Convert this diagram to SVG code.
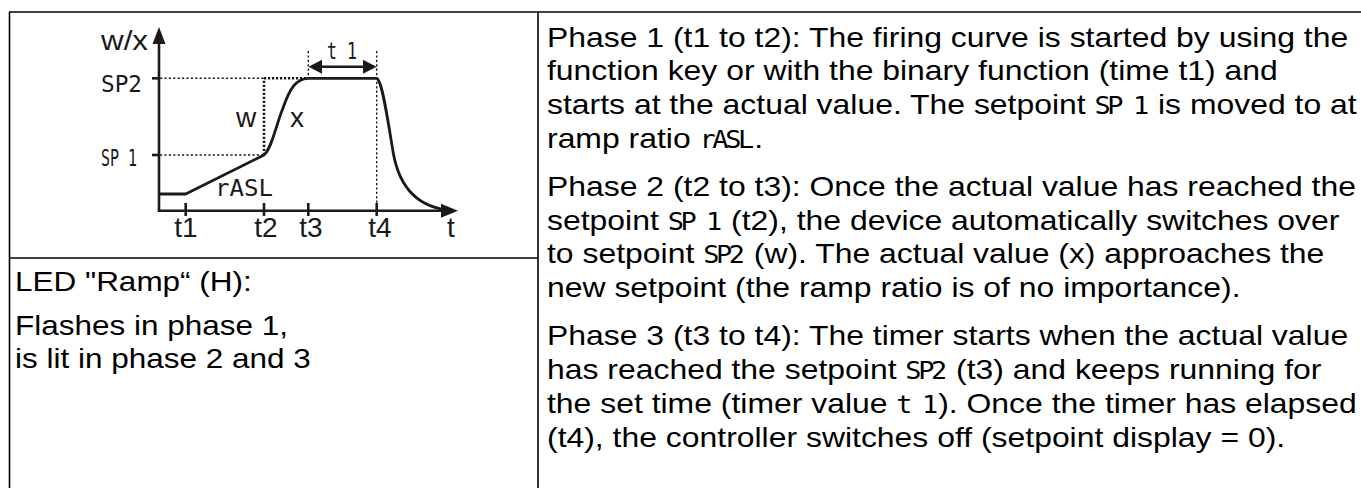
<svg xmlns="http://www.w3.org/2000/svg" width="1361" height="488" viewBox="0 0 1361 488">
<style>
.txt{font-family:"Liberation Sans",Arial,Helvetica,sans-serif;font-size:28.5px;fill:#000}
.lbl{font-family:"Liberation Sans",Arial,Helvetica,sans-serif;font-size:28px;fill:#1a1a1a}
.seg{font-family:"DejaVu Sans Mono","Liberation Mono",monospace;font-size:24px;letter-spacing:-3px}
.segl{font-family:"DejaVu Sans Mono","Liberation Mono",monospace;font-size:23px;fill:#1a1a1a}
.frame{stroke:#000;stroke-width:1.6;fill:none}
.axis{stroke:#1a1a1a;stroke-width:2.6;fill:none}
.dot{stroke:#1a1a1a;stroke-width:1.4;stroke-dasharray:2.2 2.2;fill:none}
.dotb{stroke:#1a1a1a;stroke-width:2.6;stroke-dasharray:2.2 1.8;fill:none}
.curve{stroke:#1a1a1a;stroke-width:2.8;fill:none;stroke-linejoin:round}
.head{fill:#1a1a1a}
</style>
<g id="frame">
<line class="frame" x1="9" y1="12" x2="1361" y2="12"/>
<line class="frame" x1="9.5" y1="12" x2="9.5" y2="488"/>
<line class="frame" x1="538" y1="12" x2="538" y2="488"/>
<line class="frame" x1="9" y1="258" x2="538" y2="258"/>
</g>
<g id="chart">
<line class="axis" x1="159" y1="42" x2="159" y2="210.7"/>
<line class="axis" x1="157.7" y1="210.7" x2="443" y2="210.7"/>
<polygon class="head" points="159,27 152.5,44 165.5,44"/>
<polygon class="head" points="458,210.7 441,203.7 441,217.7"/>
<line class="axis" x1="152" y1="78.3" x2="159" y2="78.3" stroke-width="2"/>
<line class="axis" x1="152" y1="155" x2="159" y2="155" stroke-width="2"/>
<line class="axis" x1="185.7" y1="203" x2="185.7" y2="216" stroke-width="2"/>
<line class="axis" x1="264" y1="203" x2="264" y2="216" stroke-width="2"/>
<line class="axis" x1="308.3" y1="203" x2="308.3" y2="216" stroke-width="2"/>
<line class="axis" x1="376.7" y1="203" x2="376.7" y2="216" stroke-width="2"/>
<line class="dot" x1="160" y1="78.3" x2="264" y2="78.3"/>
<line class="dot" x1="160" y1="155" x2="264" y2="155"/>
<line class="dotb" x1="264" y1="155" x2="264" y2="78.3"/>
<line class="dotb" x1="264" y1="78.3" x2="308" y2="78.3"/>
<line class="dot" x1="308.3" y1="51" x2="308.3" y2="78"/>
<line class="dot" x1="376.7" y1="51" x2="376.7" y2="210"/>
<path class="curve" d="M159,194 L185.7,194 L264,155 C272,148 276,125 283,108 C290,88 296,79 308,78.3 L376.7,78.3 C382,80 387,115 393.3,153.3 C399,185 415,208 452,210.5"/>
<line stroke="#1a1a1a" stroke-width="2.4" x1="318" y1="66.7" x2="367" y2="66.7"/>
<polygon class="head" points="308.5,66.7 322,59.7 322,73.7"/>
<polygon class="head" points="376.5,66.7 363,59.7 363,73.7"/>
<text class="lbl" x="101" y="50" textLength="47" lengthAdjust="spacingAndGlyphs">w/x</text>
<text class="segl" x="101" y="92" textLength="41" lengthAdjust="spacingAndGlyphs">SP2</text>
<text class="segl" x="101" y="166" textLength="36" lengthAdjust="spacingAndGlyphs">SP 1</text>
<text class="segl" x="215" y="196" textLength="58" lengthAdjust="spacingAndGlyphs">rASL</text>
<text class="segl" x="327" y="59" textLength="30" lengthAdjust="spacingAndGlyphs">t 1</text>
<text class="lbl" x="236" y="127">w</text>
<text class="lbl" x="290" y="127">x</text>
<text class="lbl" x="186" y="237" text-anchor="middle">t1</text>
<text class="lbl" x="266" y="237" text-anchor="middle">t2</text>
<text class="lbl" x="311" y="237" text-anchor="middle">t3</text>
<text class="lbl" x="380" y="237" text-anchor="middle">t4</text>
<text class="lbl" x="451" y="237" text-anchor="middle">t</text>
</g>
<g id="led" transform="translate(15,0) scale(1.105,1)">
<text class="txt" x="0" y="291">LED "Ramp“ (H):</text>
<text class="txt" x="0" y="335">Flashes in phase 1,</text>
<text class="txt" x="0" y="368">is lit in phase 2 and 3</text>
</g>
<g id="phase1" transform="translate(547,0) scale(1.12,1)">
<text class="txt" x="0" y="46.7">Phase 1 (t1 to t2): The firing curve is started by using the</text>
<text class="txt" x="0" y="80.5">function key or with the binary function (time t1) and</text>
<text class="txt" x="0" y="114.3">starts at the actual value. The setpoint <tspan class="seg">SP 1</tspan><tspan dx="3"> is moved to at</tspan></text>
<text class="txt" x="0" y="148.2">ramp ratio <tspan class="seg">rASL</tspan><tspan dx="3">.</tspan></text>
</g>
<g id="phase2" transform="translate(547,0) scale(1.12,1)">
<text class="txt" x="0" y="196">Phase 2 (t2 to t3): Once the actual value has reached the</text>
<text class="txt" x="0" y="229.8">setpoint <tspan class="seg">SP 1</tspan><tspan dx="3"> (t2), the device automatically switches over</tspan></text>
<text class="txt" x="0" y="263.5">to setpoint <tspan class="seg">SP2</tspan><tspan dx="3"> (w). The actual value (x) approaches the</tspan></text>
<text class="txt" x="0" y="297.3">new setpoint (the ramp ratio is of no importance).</text>
</g>
<g id="phase3" transform="translate(547,0) scale(1.12,1)">
<text class="txt" x="0" y="345">Phase 3 (t3 to t4): The timer starts when the actual value</text>
<text class="txt" x="0" y="378.9">has reached the setpoint <tspan class="seg">SP2</tspan><tspan dx="3"> (t3) and keeps running for</tspan></text>
<text class="txt" x="0" y="412.8">the set time (timer value <tspan class="seg">t 1</tspan><tspan dx="3">). Once the timer has elapsed</tspan></text>
<text class="txt" x="0" y="446.7">(t4), the controller switches off (setpoint display = 0).</text>
</g>
</svg>
